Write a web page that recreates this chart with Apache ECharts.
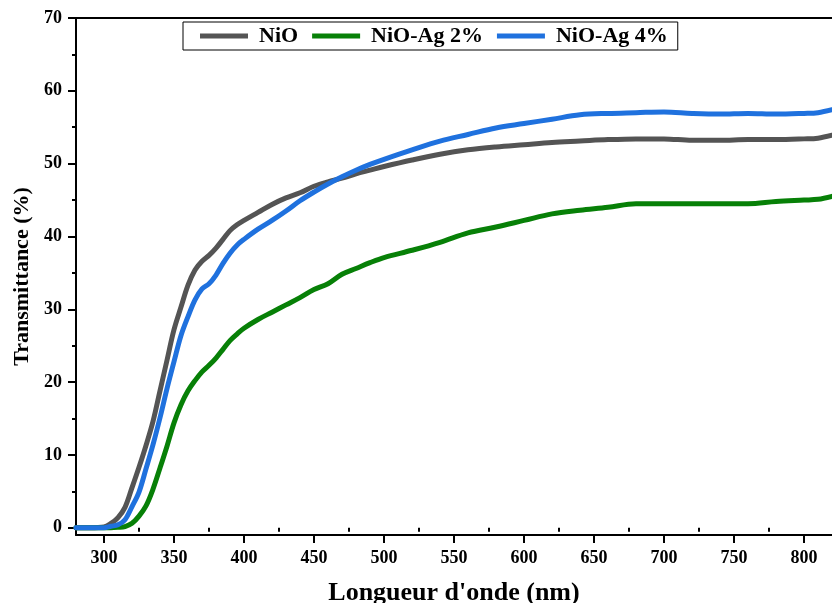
<!DOCTYPE html>
<html>
<head>
<meta charset="utf-8">
<script src="https://cdn.jsdelivr.net/npm/echarts@6/dist/echarts.min.js"></script>
<style>
  html, body { margin: 0; padding: 0; background: #fff; }
  #chart { width: 832px; height: 603px; }
</style>
</head>
<body>
<div id="chart"></div>
<script>
// Optical transmittance spectra of NiO and Ag-doped NiO films
const wavelength = [280, 290, 300, 305, 310, 315, 320, 325, 330, 335, 340, 345, 350, 355, 360, 365, 370, 375, 380, 385, 390, 395, 400, 410, 420, 430, 440, 450, 460, 470, 480, 490, 500, 520, 540, 560, 580, 600, 620, 640, 660, 680, 700, 720, 740, 760, 780, 800, 810, 820];

const nio = [0, 0, 0.1, 0.6, 1.4, 2.8, 5.5, 8.3, 11.3, 14.6, 18.8, 23.0, 27.2, 30.3, 33.3, 35.4, 36.6, 37.4, 38.4, 39.6, 40.8, 41.6, 42.2, 43.3, 44.4, 45.3, 46.0, 46.9, 47.5, 48.0, 48.6, 49.1, 49.6, 50.5, 51.3, 51.9, 52.3, 52.6, 52.9, 53.1, 53.3, 53.4, 53.4, 53.2, 53.2, 53.3, 53.3, 53.4, 53.5, 53.9];

const nioAg2 = [0, 0, 0, 0, 0.05, 0.15, 0.6, 1.6, 3.0, 5.3, 8.2, 11.2, 14.4, 16.9, 18.8, 20.2, 21.4, 22.3, 23.3, 24.5, 25.7, 26.6, 27.4, 28.6, 29.6, 30.6, 31.6, 32.7, 33.5, 34.8, 35.6, 36.4, 37.1, 38.1, 39.2, 40.5, 41.3, 42.2, 43.1, 43.6, 44.0, 44.5, 44.5, 44.5, 44.5, 44.5, 44.8, 45.0, 45.1, 45.5];

const nioAg4 = [0, 0, 0, 0.2, 0.4, 1.1, 2.9, 4.9, 8.1, 11.4, 15.1, 19.1, 22.8, 26.4, 29.0, 31.3, 32.8, 33.5, 34.7, 36.3, 37.7, 38.8, 39.6, 41.0, 42.2, 43.5, 44.9, 46.1, 47.2, 48.2, 49.1, 49.9, 50.6, 51.9, 53.1, 54.0, 54.9, 55.5, 56.1, 56.7, 56.9, 57.0, 57.1, 56.9, 56.8, 56.9, 56.8, 56.9, 57.0, 57.4];

const seriesNames = ['NiO', 'NiO-Ag 2%', 'NiO-Ag 4%'];
const seriesColors = ['#545454', '#078007', '#1f71de'];

const xMajor = [300, 350, 400, 450, 500, 550, 600, 650, 700, 750, 800];
const xMinor = [325, 375, 425, 475, 525, 575, 625, 675, 725, 775];
const yMajor = [0, 10, 20, 30, 40, 50, 60, 70];
const yMinor = [5, 15, 25, 35, 45, 55, 65];

const FONT = '"Liberation Serif", "Times New Roman", serif';

function pairs(ys) {
  return wavelength.map((w, i) => [w, ys[i]]);
}

const axisLine = { show: true, onZero: false, lineStyle: { color: '#000', width: 2 } };
const labelFont = { fontFamily: FONT, fontWeight: 'bold', fontSize: 18, color: '#000' };

const chart = echarts.init(document.getElementById('chart'), null, { renderer: 'canvas' });

chart.setOption({
  animation: false,
  backgroundColor: '#fff',
  grid: { left: 76, right: 0, top: 18, bottom: 68, containLabel: false, outerBoundsMode: 'none' },
  legend: {
    left: 183,
    top: 22,
    padding: [3, 10, 3, 17],
    borderColor: '#000',
    borderWidth: 1,
    itemWidth: 48,
    itemHeight: 5,
    itemGap: 14,
    icon: 'rect',
    data: seriesNames,
    textStyle: { fontFamily: FONT, fontWeight: 'bold', fontSize: 22, color: '#000', padding: [0, 0, 0, 6] }
  },
  xAxis: [
    {
      type: 'value', min: 280, max: 820, position: 'bottom',
      axisLine: axisLine,
      axisTick: { show: true, inside: false, length: 8, lineStyle: { color: '#000', width: 2 }, customValues: xMajor },
      axisLabel: Object.assign({ margin: 14, customValues: xMajor }, labelFont),
      splitLine: { show: false },
      name: "Longueur d'onde (nm)",
      nameLocation: 'middle',
      nameGap: 45,
      nameTextStyle: { fontFamily: FONT, fontWeight: 'bold', fontSize: 26, color: '#000' }
    },
    {
      type: 'value', min: 280, max: 820, position: 'bottom',
      axisLine: { show: false },
      axisTick: { show: true, inside: false, length: 4, lineStyle: { color: '#000', width: 2 }, customValues: xMinor },
      axisLabel: { show: false },
      splitLine: { show: false }
    },
    {
      type: 'value', min: 280, max: 820, position: 'top',
      axisLine: axisLine,
      axisTick: { show: false },
      axisLabel: { show: false },
      splitLine: { show: false }
    }
  ],
  yAxis: [
    {
      type: 'value', min: -1, max: 70, position: 'left',
      axisLine: axisLine,
      axisTick: { show: true, inside: false, length: 8, lineStyle: { color: '#000', width: 2 }, customValues: yMajor },
      axisLabel: Object.assign({ margin: 14, customValues: yMajor }, labelFont),
      splitLine: { show: false },
      name: 'Transmittance (%)',
      nameLocation: 'middle',
      nameGap: 43,
      nameTextStyle: { fontFamily: FONT, fontWeight: 'bold', fontSize: 22, color: '#000' }
    },
    {
      type: 'value', min: -1, max: 70, position: 'left',
      axisLine: { show: false },
      axisTick: { show: true, inside: false, length: 4, lineStyle: { color: '#000', width: 2 }, customValues: yMinor },
      axisLabel: { show: false },
      splitLine: { show: false }
    }
  ],
  series: [nio, nioAg2, nioAg4].map((ys, i) => ({
    name: seriesNames[i],
    type: 'line',
    xAxisIndex: 0,
    yAxisIndex: 0,
    data: pairs(ys),
    showSymbol: false,
    symbol: 'none',
    smooth: 0.35,
    color: seriesColors[i],
    lineStyle: { color: seriesColors[i], width: 5, cap: 'round', join: 'round' }
  }))
});
</script>
</body>
</html>
